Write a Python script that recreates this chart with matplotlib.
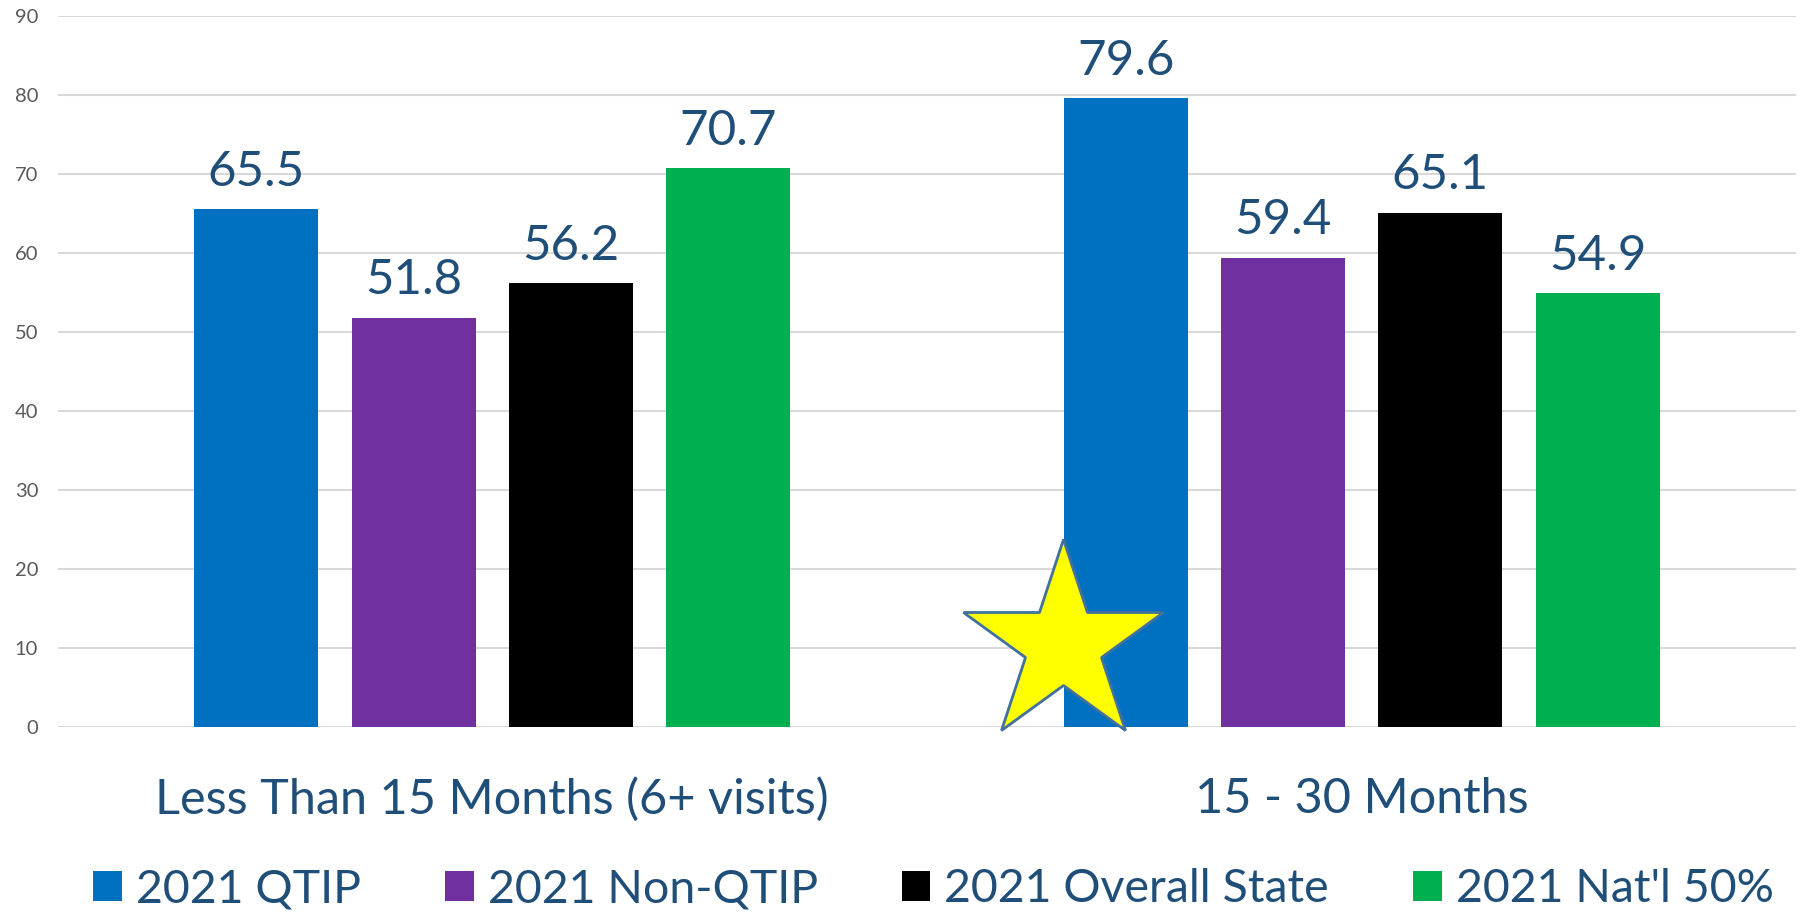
import matplotlib.pyplot as plt
import numpy as np
from matplotlib.patches import Patch

categories = ["Less Than 15 Months (6+ visits)", "15 - 30 Months"]
series_names = ["2021 QTIP", "2021 Non-QTIP", "2021 Overall State", "2021 Nat'l 50%"]
qtip = [65.5, 79.6]
non_qtip = [51.8, 59.4]
overall_state = [56.2, 65.1]
natl_50 = [70.7, 54.9]
colors = ["#0070c0", "#7030a0", "#000000", "#00b050"]
yticks = [0, 10, 20, 30, 40, 50, 60, 70, 80, 90]

text_color = "#1f4e79"
plt.rcParams["font.family"] = ["Lato", "DejaVu Sans"]

fig = plt.figure(figsize=(18.02, 9.13), dpi=100)
ax = fig.add_axes([0.032, 0.204, 0.9648, 0.7785])

x = np.arange(len(categories))
width = 0.1427
step = 0.181
all_series = [qtip, non_qtip, overall_state, natl_50]
for i, (vals, col, name) in enumerate(zip(all_series, colors, series_names)):
    pos = x + (i - 1.5) * step
    bars = ax.bar(pos, vals, width=width, color=col, label=name, zorder=2)
    for b, v in zip(bars, vals):
        ax.annotate(f"{v}", (b.get_x() + b.get_width() / 2, v),
                    xytext=(0, 11), textcoords="offset points",
                    ha="center", va="bottom", fontsize=35.5, color=text_color)

# star highlight on the 15-30 month QTIP bar
ax.plot([0.6565], [10.3], marker="*", markersize=152, markerfacecolor="#ffff00",
        markeredgecolor="#41719c", markeredgewidth=2, zorder=3, clip_on=False)

ax.set_xlim(-0.5, 1.5)
ax.set_ylim(0, 90)
ax.set_yticks(yticks)
ax.set_xticks(x)
ax.set_xticklabels(categories, fontsize=35, color=text_color)
ax.tick_params(axis="x", length=0, pad=36)
ax.tick_params(axis="y", length=0, labelsize=14.5, labelcolor="#595959", pad=14)
ax.yaxis.grid(True, color="#d9d9d9", linewidth=1.5, zorder=0)
for s in ax.spines.values():
    s.set_visible(False)

handles = [Patch(facecolor=c, edgecolor="none") for c in colors]
fig.legend(handles, series_names, loc="center", bbox_to_anchor=(0.518, 0.026),
           ncol=4, frameon=False, fontsize=33.5, labelcolor=text_color,
           handlelength=0.62, handleheight=0.62, handletextpad=0.3, columnspacing=1.8)

fig.savefig("out.png", dpi=100)
